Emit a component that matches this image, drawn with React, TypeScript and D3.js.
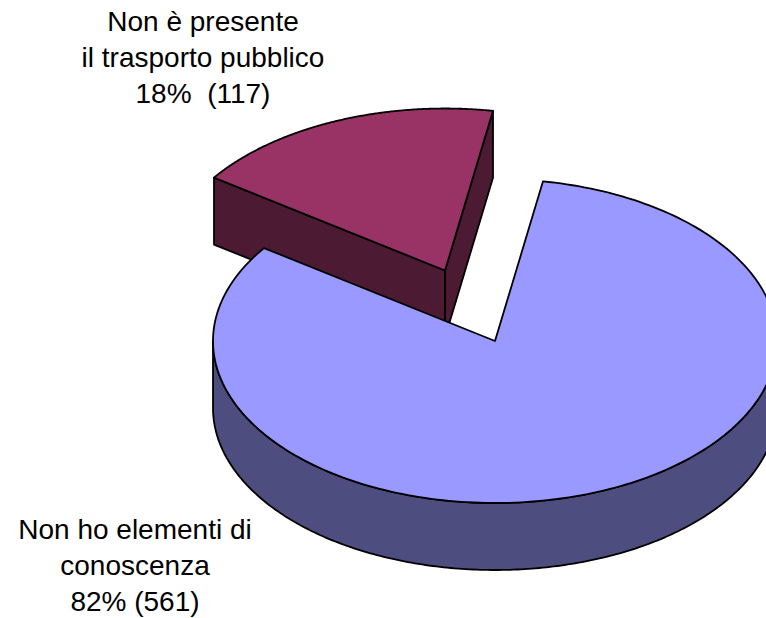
import React from "react";
import * as d3 from "d3";

const categories = ["Non ho elementi di conoscenza", "Non è presente il trasporto pubblico"];
const shares = [82, 18];
const topColors = ["#9999FF", "#993366"];
const sideColors = ["#4D4D80", "#4D1A33"];
const labelLines = [
  ["Non è presente", "il trasporto pubblico", "18%  (117)"],
  ["Non ho elementi di", "conoscenza", "82% (561)"],
];

const W = 766, H = 618;
const cx = 495, cy = 341, rx = 282, ry = 162, depth = 67;
const sliceDx = -50, sliceDy = -70.5;
const startAngle = (9.8 * Math.PI) / 180;

const pieGen = d3.pie<number>().sort(null).startAngle(startAngle).endAngle(startAngle + 2 * Math.PI);
const arcs = pieGen(shares);

const pt = (a: number, ox: number, oy: number): [number, number] => [
  ox + rx * Math.sin(a),
  oy - ry * Math.cos(a),
];
const line = d3.line<[number, number]>();
const sample = (a0: number, a1: number, ox: number, oy: number) =>
  d3.range(0, 241).map((i) => pt(a0 + ((a1 - a0) * i) / 240, ox, oy));

const EDGE = { stroke: "#000", strokeWidth: 1.8, strokeLinejoin: "round" as const };

export default function App() {
  const big = arcs[0];
  const small = arcs[1];
  const sx = cx + sliceDx, sy = cy + sliceDy;

  const bigTop = line([[cx, cy], ...sample(big.startAngle, big.endAngle, cx, cy)]) + "Z";
  // outer wall of the big slice: only the lower half of the ellipse shows
  const wallA = Math.PI / 2, wallB = (3 * Math.PI) / 2;
  const wallTop = sample(wallA, wallB, cx, cy);
  const wallBottom = sample(wallA, wallB, cx, cy + depth).reverse();
  const bigWall = line([...wallTop, ...wallBottom]) + "Z";

  const smallTop = line([[sx, sy], ...sample(small.startAngle, small.endAngle, sx, sy)]) + "Z";
  const pL = pt(small.startAngle, sx, sy);
  const pR = pt(small.endAngle, sx, sy);
  const face = (a: [number, number], b: [number, number]) =>
    line([a, b, [b[0], b[1] + depth], [a[0], a[1] + depth]]) + "Z";

  return (
    <svg
      width={W}
      height={H}
      viewBox={`0 0 ${W} ${H}`}
      style={{ position: "absolute", left: 0, top: 0, background: "#fff" }}
      fontFamily="Liberation Sans, Arial, sans-serif"
    >
      <g>
        <path d={face(pL, [sx, sy])} fill={sideColors[1]} {...EDGE} />
        <path d={face([sx, sy], pR)} fill={sideColors[1]} {...EDGE} />
        <path d={smallTop} fill={topColors[1]} {...EDGE} />
      </g>
      <g>
        <path d={bigWall} fill={sideColors[0]} {...EDGE} />
        <path d={bigTop} fill={topColors[0]} {...EDGE} />
      </g>
      <g fontSize={28} fill="#000" textAnchor="middle">
        <title>{categories.join(" / ")}</title>
        {labelLines[0].map((t, i) => (
          <text key={i} x={203} y={31 + i * 36} xmlSpace="preserve">{t}</text>
        ))}
        {labelLines[1].map((t, i) => (
          <text key={i} x={135} y={539 + i * 36} xmlSpace="preserve">{t}</text>
        ))}
      </g>
    </svg>
  );
}
